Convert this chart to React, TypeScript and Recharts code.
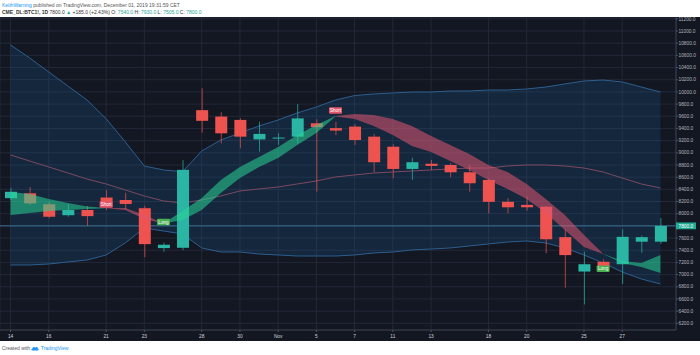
import React from 'react';
import { ComposedChart, Bar, Line, Area, XAxis, YAxis, CartesianGrid, ReferenceLine } from 'recharts';

const dates = ['Oct 14','Oct 15','Oct 16','Oct 17','Oct 18','Oct 21','Oct 22','Oct 23','Oct 24','Oct 25','Oct 28','Oct 29','Oct 30','Oct 31','Nov 1','Nov 4','Nov 5','Nov 6','Nov 7','Nov 8','Nov 11','Nov 12','Nov 13','Nov 14','Nov 15','Nov 18','Nov 19','Nov 20','Nov 21','Nov 22','Nov 25','Nov 26','Nov 27','Nov 28','Nov 29'];

const openP = [8255,8335,8155,7975,8060,8265,8225,8090,7435,7440,9700,9595,9540,9220,9235,9265,9485,9405,9430,9265,9100,8735,8820,8800,8680,8555,8195,8145,8115,7615,7050,7210,7170,7540,7540];
const highP = [8425,8435,8200,8155,8125,8390,8345,8130,7525,8880,10060,9665,9570,9510,9320,9800,9550,9510,9470,9305,9140,8920,8880,8830,8800,8580,8255,8280,8130,7745,7375,7250,7745,7640,7930];
const lowP = [8225,8140,7925,7950,7800,8060,8070,7285,7375,7400,9330,9155,9075,9020,9130,9155,8360,9290,9130,8680,8580,8555,8720,8600,8360,8005,8005,8050,7350,6785,6510,7100,6845,7360,7505];
const closeP = [8360,8170,7950,8060,7960,8105,8160,7500,7490,8720,9525,9320,9265,9310,9250,9565,9420,9365,9210,8845,8735,8845,8785,8680,8500,8195,8105,8105,7580,7320,7170,7140,7620,7615,7800];

const bbUpper = [10770,10557,10327,10097,9867,9560,9180,8783,8718,8690,9030,9210,9325,9440,9539,9654,9752,9867,9940,9966,9982,9998,9998,10015,10015,10031,10031,10048,10080,10130,10179,10195,10163,10080,9998];
const bbMid = [8964,8865,8767,8668,8570,8488,8389,8291,8209,8176,8225,8291,8373,8406,8438,8488,8537,8603,8636,8668,8685,8701,8718,8734,8750,8750,8783,8800,8800,8783,8750,8685,8586,8488,8422];
const bbLower = [7158,7158,7174,7207,7240,7322,7519,7765,7716,7667,7437,7371,7371,7338,7322,7305,7305,7305,7322,7355,7371,7404,7420,7437,7470,7503,7535,7552,7519,7437,7322,7191,7043,6928,6846];

const fastLine = [8356,8324,8241,8176,8118,8090,8061,7913,7842,8044,8258,8553,8767,8931,9095,9292,9457,9596,9555,9440,9292,9112,9013,8865,8718,8553,8406,8241,8012,7732,7453,7342,7223,7191,7322];
const slowLine = [7979,8012,8044,8061,8077,8095,8094,7979,7838,7897,8061,8340,8586,8767,8915,9128,9325,9604,9637,9621,9555,9440,9276,9128,8980,8800,8685,8488,8241,7979,7650,7338,7191,7125,7026];

const signalDates = ['Oct 21','Oct 24','Nov 6','Nov 26'];
const signalTexts = ['Short','Long','Short','Long'];
const signalValues = [8151,7864,9695,7097];

const tickDates = ['Oct 14','Oct 16','Oct 21','Oct 23','Oct 28','Oct 30','Nov 1','Nov 5','Nov 7','Nov 11','Nov 13','Nov 18','Nov 20','Nov 25','Nov 27'];
const tickLabels = ['14','16','21','23','28','30','Nov','5','7','11','13','18','20','25','27'];
const priceTicks = [6200,6400,6600,6800,7000,7200,7400,7600,7800,8000,8200,8400,8600,8800,9000,9200,9400,9600,9800,10000,10200,10400,10600,10800,11000,11200];
const lastPrice = 7800;

const UP = '#2bb5a4';
const DOWN = '#ef5350';
const FONT = '"Liberation Sans", Arial, sans-serif';

const data = dates.map((d, i) => {
  const isGreen = fastLine[i] >= slowLine[i];
  const prevGreen = i > 0 ? fastLine[i - 1] >= slowLine[i - 1] : isGreen;
  const lo = Math.min(fastLine[i], slowLine[i]);
  const hi = Math.max(fastLine[i], slowLine[i]);
  const si = signalDates.indexOf(d);
  return {
    date: d,
    open: openP[i], high: highP[i], low: lowP[i], close: closeP[i],
    candle: [lowP[i], highP[i]],
    bb: [bbLower[i], bbUpper[i]],
    upper: bbUpper[i], mid: bbMid[i], lower: bbLower[i],
    green: (isGreen || (i > 0 && prevGreen)) ? [lo, hi] : null,
    red: (!isGreen || (i > 0 && !prevGreen)) ? [lo, hi] : null,
    sig: si >= 0 ? signalValues[si] : null,
    sigText: si >= 0 ? signalTexts[si] : null,
  };
});

const Candle = (props: any) => {
  const { x, y, width, height, payload } = props;
  if (!payload || x == null || y == null) return <g />;
  let top = y, h = height;
  if (h < 0) { top = y + h; h = -h; }
  const { open, close, high, low } = payload;
  const span = high - low;
  const k = span > 0 ? h / span : 0;
  const yO = top + (high - open) * k;
  const yC = top + (high - close) * k;
  const up = close >= open;
  const color = up ? UP : DOWN;
  const bodyTop = Math.min(yO, yC);
  const bodyH = Math.max(1, Math.abs(yO - yC));
  const cx = x + width / 2;
  return (
    <g>
      <line x1={cx} x2={cx} y1={top} y2={top + h} stroke={color} strokeOpacity={0.7} strokeWidth={1} />
      <rect x={x} y={bodyTop} width={width} height={bodyH} fill={color} />
    </g>
  );
};

const SignalDot = (props: any) => {
  const { cx, cy, payload, index } = props;
  if (!payload || payload.sigText == null || cy == null || isNaN(cy)) return <g key={`s${index}`} />;
  const isLong = payload.sigText === 'Long';
  return (
    <g key={`s${index}`}>
      <rect x={cx - 6.5} y={cy - 3.2} width={13} height={6.4} rx={1} fill={isLong ? '#4caf50' : '#e2566b'} />
      <text x={cx} y={cy + 0.2} textAnchor="middle" dominantBaseline="central" fontSize={4.6} fill="#ffffff" fontFamily={FONT}>{payload.sigText}</text>
    </g>
  );
};

const PriceTick = (props: any) => {
  const { y, payload } = props;
  const v = payload.value;
  if (v === lastPrice) {
    return (
      <g>
        <rect x={676} y={y - 3.4} width={20} height={6.8} fill="#22ab94" />
        <text x={678.5} y={y + 0.2} dominantBaseline="central" fontSize={4.8} fill="#ffffff" fontFamily={FONT}>{v.toFixed(1)}</text>
      </g>
    );
  }
  return <text x={678.5} y={y + 0.2} dominantBaseline="central" fontSize={4.8} fill="#b2b5be" fontFamily={FONT}>{v.toFixed(1)}</text>;
};

const TimeTick = (props: any) => {
  const { x, payload } = props;
  const idx = tickDates.indexOf(payload.value);
  const label = idx >= 0 ? tickLabels[idx] : '';
  return <text x={x} y={319} textAnchor="middle" dominantBaseline="central" fontSize={4.8} fill="#d1d4dc" fontFamily={FONT}>{label}</text>;
};

const Logo = () => (
  <svg width={8} height={5} viewBox="0 0 16 10" style={{ verticalAlign: 'middle' }}>
    <path d="M3 9 C0 9 0 5 3 5 C3 2 7 1 8.5 3.5 C10 1 14 2 13.5 5 C16 5 16 9 13 9 Z" fill="#2196f3" />
  </svg>
);

export default function App() {
  return (
    <div style={{ position: 'fixed', left: 0, top: 0, width: 700, height: 355, background: '#ffffff', overflow: 'hidden', fontFamily: FONT }}>
      <div style={{ position: 'absolute', left: 2, top: 2, fontSize: 5, lineHeight: '6px', whiteSpace: 'nowrap', color: '#555' }}>
        <span style={{ color: '#2196f3' }}>KeithWarning</span> published on TradingView.com, December 01, 2019 19:31:59 CET
      </div>
      <div style={{ position: 'absolute', left: 2, top: 8.5, fontSize: 5, lineHeight: '6px', whiteSpace: 'nowrap', color: '#333' }}>
        <span style={{ fontWeight: 'bold' }}>CME_DL:BTC1!, 1D</span> 7800.0 <span style={{ color: '#26a69a' }}>▲</span> +185.0 (+2.43%) O: <span style={{ color: '#26a69a' }}>7540.0</span> H: <span style={{ color: '#26a69a' }}>7930.0</span> L: <span style={{ color: '#26a69a' }}>7505.0</span> C: <span style={{ color: '#26a69a' }}>7800.0</span>
      </div>
      <div style={{ position: 'absolute', left: 0, top: 17, width: 700, height: 324, background: '#131722' }}>
        <ComposedChart width={700} height={324} data={data} margin={{ top: 0, right: 0, left: 0, bottom: 0 }}>
          <CartesianGrid stroke="#232838" strokeWidth={1} />
          <XAxis dataKey="date" type="category" ticks={tickDates} interval={0} padding={{ left: 1, right: 6 }} height={11} tickSize={2} axisLine={{ stroke: '#3a3e4a' }} tickLine={{ stroke: '#50535e' }} tick={<TimeTick />} />
          <YAxis orientation="right" width={24} type="number" domain={[6090, 11230]} allowDataOverflow ticks={priceTicks} interval={0} tickSize={2} axisLine={{ stroke: '#3a3e4a' }} tickLine={{ stroke: '#50535e' }} tick={<PriceTick />} />
          <Area dataKey="bb" type="linear" stroke="none" fill="#2196f3" fillOpacity={0.13} isAnimationActive={false} zIndex={50} />
          <Line dataKey="upper" type="linear" stroke="#2d5e8e" strokeWidth={1} dot={false} activeDot={false} isAnimationActive={false} zIndex={60} />
          <Line dataKey="lower" type="linear" stroke="#2d5e8e" strokeWidth={1} dot={false} activeDot={false} isAnimationActive={false} zIndex={60} />
          <Line dataKey="mid" type="linear" stroke="#7b4a62" strokeWidth={1} dot={false} activeDot={false} isAnimationActive={false} zIndex={60} />
          <ReferenceLine y={lastPrice} stroke="#3a6f92" strokeWidth={1} zIndex={70} />
          <Bar dataKey="candle" barSize={12} shape={(p: any) => <Candle {...p} />} isAnimationActive={false} zIndex={300} />
          <Area dataKey="green" type="linear" stroke="none" fill="#2ad496" fillOpacity={0.55} connectNulls={false} isAnimationActive={false} zIndex={450} />
          <Area dataKey="red" type="linear" stroke="none" fill="#e0566f" fillOpacity={0.55} connectNulls={false} isAnimationActive={false} zIndex={450} />
          <Line dataKey="sig" type="linear" stroke="none" dot={(p: any) => <SignalDot {...p} />} activeDot={false} isAnimationActive={false} zIndex={600} />
        </ComposedChart>
      </div>
      <div style={{ position: 'absolute', left: 2, top: 345, fontSize: 5, lineHeight: '6px', whiteSpace: 'nowrap', color: '#555' }}>
        Created with <Logo /> <span style={{ color: '#2196f3' }}>TradingView</span>
      </div>
    </div>
  );
}
